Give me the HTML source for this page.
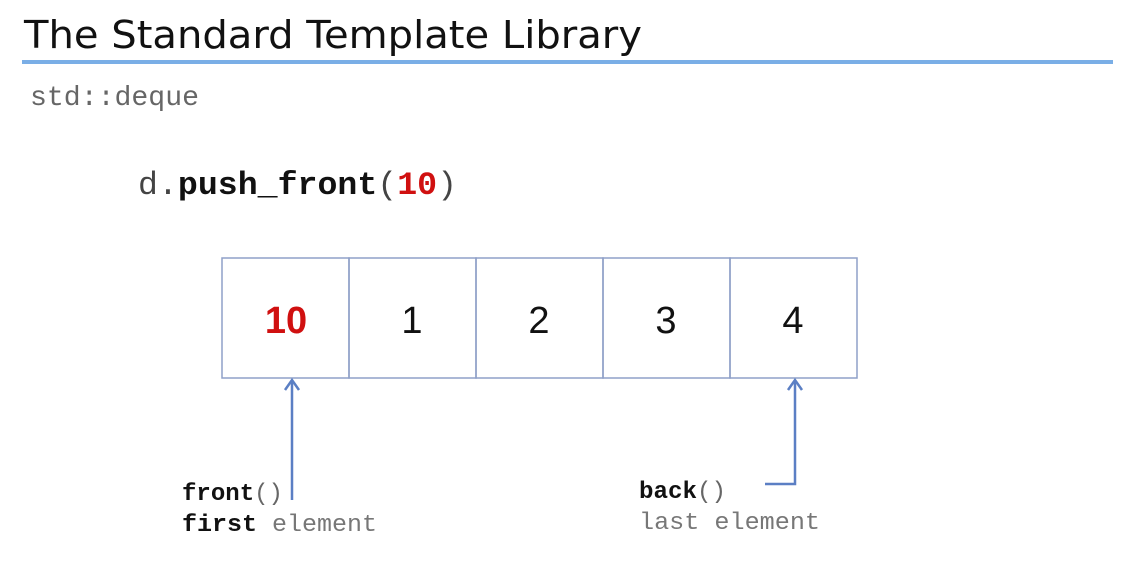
<!DOCTYPE html>
<html><head><meta charset="utf-8"><style>
html,body{margin:0;padding:0;background:#fff;width:1135px;height:561px;overflow:hidden}
</style></head><body>
<svg width="1135" height="561" xmlns="http://www.w3.org/2000/svg">
<text x="24" y="48" font-family="DejaVu Sans, Liberation Sans, sans-serif" font-size="38" fill="#111" textLength="618" lengthAdjust="spacingAndGlyphs">The Standard Template Library</text>
<rect x="22" y="60" width="1091" height="4" fill="#7aaee6"/>
<text x="30" y="105" font-family="Liberation Mono, monospace" font-size="28" fill="#666" textLength="169" lengthAdjust="spacingAndGlyphs">std::deque</text>
<text x="138" y="194" font-family="Liberation Mono, monospace" font-size="32" fill="#444" textLength="319" lengthAdjust="spacingAndGlyphs">d.<tspan font-weight="bold" fill="#111">push_front</tspan>(<tspan font-weight="bold" fill="#d01010">10</tspan>)</text>
<g fill="none" stroke="#8fa0c8" stroke-width="1.5">
<rect x="222" y="258" width="127" height="120"/>
<rect x="349" y="258" width="127" height="120"/>
<rect x="476" y="258" width="127" height="120"/>
<rect x="603" y="258" width="127" height="120"/>
<rect x="730" y="258" width="127" height="120"/>
</g>
<g font-family="Liberation Sans, sans-serif" font-size="38" fill="#111" text-anchor="middle">
<text x="286" y="333" font-weight="bold" fill="#d01010">10</text>
<text x="412" y="333">1</text>
<text x="539" y="333">2</text>
<text x="666" y="333">3</text>
<text x="793" y="333">4</text>
</g>
<g stroke="#5b7fc4" stroke-width="2.5" fill="none">
<path d="M292 381 V500"/>
<path d="M285 390 L292 380 L299 390"/>
<path d="M795 381 V484 H765"/>
<path d="M788 390 L795 380 L802 390"/>
</g>
<g font-family="Liberation Mono, monospace" font-size="24">
<text x="182" y="500" fill="#111" font-weight="bold" textLength="101" lengthAdjust="spacingAndGlyphs">front<tspan font-weight="normal" fill="#666">()</tspan></text>
<text x="182" y="531" fill="#111" font-weight="bold" textLength="195" lengthAdjust="spacingAndGlyphs">first <tspan font-weight="normal" fill="#777">element</tspan></text>
<text x="639" y="498" fill="#111" font-weight="bold" textLength="87" lengthAdjust="spacingAndGlyphs">back<tspan font-weight="normal" fill="#666">()</tspan></text>
<text x="639" y="529" fill="#777" textLength="181" lengthAdjust="spacingAndGlyphs">last element</text>
</g>
</svg>
</body></html>
